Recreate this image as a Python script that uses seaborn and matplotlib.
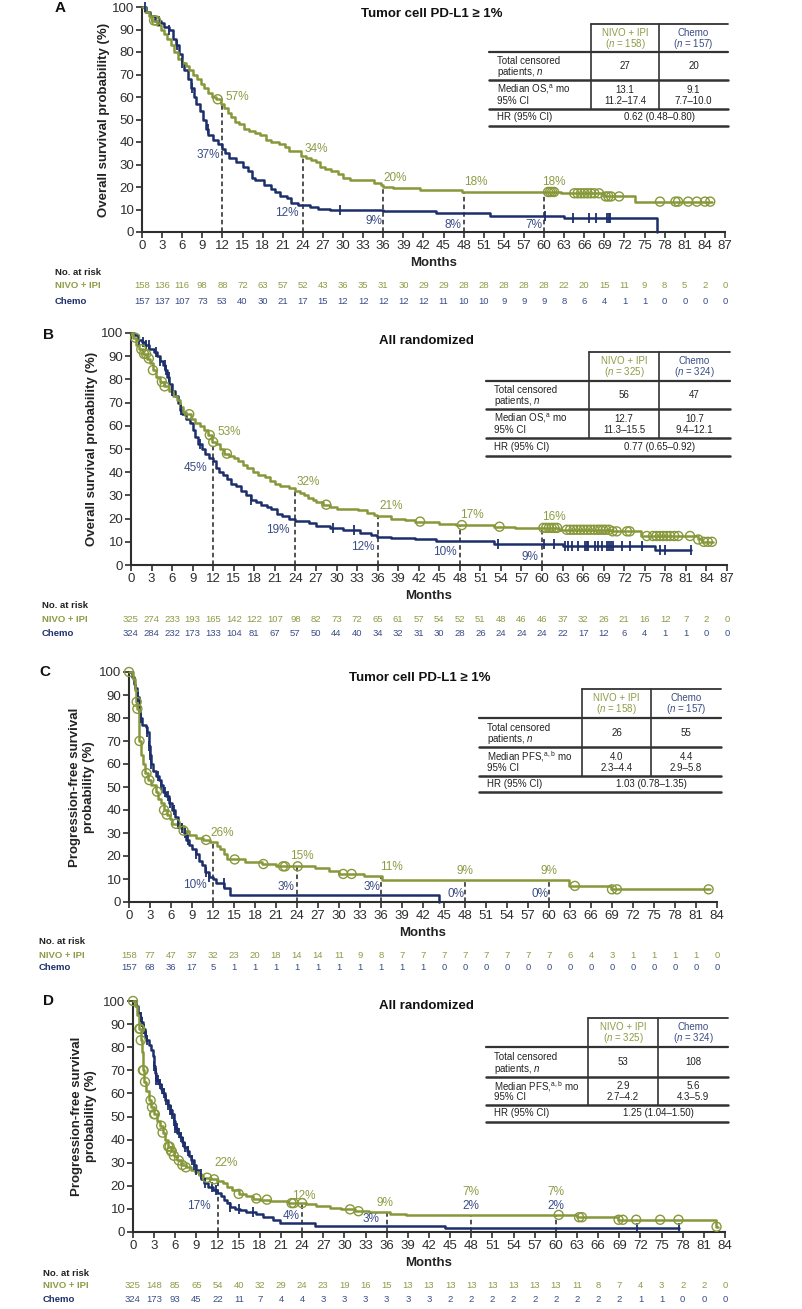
import numpy as np
import pandas as pd
import matplotlib
matplotlib.use("Agg")
import matplotlib.pyplot as plt
from matplotlib import transforms
import seaborn as sns

# ============================ DATA ============================
# --- Panel A: OS, tumor cell PD-L1 >= 1% ---
A_NIVO_T = [0, 0.5, 1.0, 1.5, 2.2, 2.8, 3.3, 3.8, 4.3, 4.8,
            5.3, 5.9, 6.5, 7.0, 7.6, 8.2, 8.8, 9.3, 9.8, 10.4,
            11.0, 11.8, 12.3, 12.8, 13.3, 13.9, 14.5, 15.2, 16.0, 16.8,
            17.6, 18.5, 19.3, 20.5, 21.3, 22.0, 23.8, 24.5, 25.2, 25.9,
            26.6, 27.3, 28.2, 29.2, 30.0, 31.0, 34.6, 35.6, 35.9, 37.5,
            41.5, 47.8, 62.5, 69.0, 73.5, 85.0]
A_NIVO_S = [100, 98, 96, 94, 92, 90, 88, 86, 83, 80,
            77, 75, 74, 72, 70, 68, 66, 64, 62, 60,
            59, 57, 55, 53, 51, 49, 48, 46, 45, 44,
            43, 41, 40, 39, 38, 36, 34, 33, 32, 31,
            29, 28, 27, 26, 24, 23, 22, 21, 20, 19.4,
            18.7, 17.8, 17.2, 15.8, 13.5, 13.5]
A_CHEMO_T = [0, 0.6, 1.2, 2.0, 2.8, 3.3, 4.0, 4.6, 5.1, 5.5,
             5.9, 6.3, 6.8, 7.3, 7.7, 8.1, 8.6, 9.1, 9.5, 9.9,
             10.6, 11.3, 11.9, 12.4, 13.0, 14.0, 15.0, 15.8, 16.4, 16.8,
             18.2, 19.3, 19.9, 20.6, 21.6, 22.3, 23.3, 25.0, 26.2, 28.0,
             36.0, 43.8, 52.0, 63.0, 76.8]
A_CHEMO_S = [100, 98, 96, 94, 93, 91, 90, 86, 83, 79,
             75, 72, 68, 64, 60, 57, 54, 50, 46, 43,
             41, 39, 37, 35, 33, 31, 29, 27, 24, 23,
             21, 19, 18, 16, 15, 13, 12, 11.2, 10.3, 9.6,
             9.2, 8.4, 6.9, 6.1, 0]
A_NIVO_CENS = [1.8, 2.1, 11.3, 60.6, 60.9, 61.2, 61.5, 64.5, 65.0, 65.5, 66.0, 66.5,
               67.0, 67.5, 68.2, 69.2, 69.6, 70.0, 71.2, 77.3, 79.6, 80.0, 81.5, 82.8,
               84.0, 84.8]
A_CHEMO_CENS = [0.4, 2.6, 4.1, 5.2, 5.9, 7.4, 9.8, 29.5, 60.2, 64.3, 66.7, 67.7,
                69.4, 69.7, 69.9]
A_RISK_NIVO = [158, 136, 116, 98, 88, 72, 63, 57, 52, 43, 36, 35, 31, 30, 29, 29, 28, 28,
               28, 28, 28, 22, 20, 15, 11, 9, 8, 5, 2, 0]
A_RISK_CHEMO = [157, 137, 107, 73, 53, 40, 30, 21, 17, 15, 12, 12, 12, 12, 12, 11, 10, 10,
                9, 9, 9, 8, 6, 4, 1, 1, 0, 0, 0, 0]
A_LM_NIVO = ["57%", "34%", "20%", "18%", "18%"]
A_LM_CHEMO = ["37%", "12%", "9%", "8%", "7%"]

# --- Panel B: OS, all randomized ---
B_NIVO_T = [0, 0.3, 0.8, 1.2, 1.7, 2.3, 2.8, 3.2, 3.7, 4.3,
            4.8, 5.5, 6.2, 6.7, 7.1, 7.6, 8.1, 8.7, 9.3, 10.0,
            10.6, 11.2, 11.8, 12.4, 13.0, 13.6, 14.3, 15.0, 15.6, 16.3,
            17.0, 17.8, 18.6, 19.5, 20.3, 21.0, 21.7, 23.0, 23.9, 24.7,
            25.3, 25.9, 26.5, 27.0, 28.0, 29.0, 30.0, 33.2, 34.5, 35.5,
            35.9, 38.0, 40.0, 41.5, 45.0, 47.5, 53.0, 56.0, 62.5, 70.0,
            74.5, 82.8, 83.3, 85.0]
B_NIVO_S = [100, 98, 95, 93, 91, 89, 87, 84, 81, 79,
            77, 75, 73, 71, 68, 66, 65, 63, 61, 60,
            58, 56, 53, 52, 50, 48, 47, 46, 45, 43,
            42, 40, 39, 38, 36, 35, 34, 33, 32, 31,
            30, 29, 28, 27, 26, 25, 24, 23.5, 22.5, 21.5,
            21, 20, 19.3, 18.7, 17.8, 17.2, 16.5, 16.0, 15.2, 14.5,
            12.5, 11.0, 10.0, 10.0]
B_CHEMO_T = [0, 0.5, 1.0, 1.6, 2.1, 2.7, 3.3, 3.8, 4.2, 4.6,
             5.0, 5.3, 5.6, 6.0, 6.4, 6.8, 7.2, 7.5, 8.0, 8.6,
             9.0, 9.4, 9.8, 10.3, 10.8, 11.4, 11.9, 12.4, 12.9, 13.4,
             14.0, 14.6, 15.3, 16.0, 16.8, 17.5, 18.3, 19.0, 19.8, 20.5,
             21.3, 22.0, 23.0, 23.9, 26.0, 27.0, 29.0, 31.0, 33.5, 35.0,
             35.9, 38.0, 41.5, 44.5, 53.0, 63.0, 76.5, 81.8]
B_CHEMO_S = [100, 99, 97, 96, 95, 93, 92, 90, 88, 86,
             84, 81, 78, 75, 73, 70, 67, 65, 63, 61,
             58, 55, 52, 50, 48, 46, 45, 42, 40, 39,
             37, 35, 34, 32, 30, 28, 27, 26, 25, 24,
             22, 21, 20, 19, 18, 17, 16, 15, 14, 13,
             12, 11.5, 11.0, 10.5, 9.2, 8.4, 6.4, 6.4]
B_NIVO_CENS = [0.6, 1.5, 1.9, 2.2, 2.6, 3.2, 4.5, 4.9, 8.5, 11.5, 12.0, 14.0, 28.5,
               42.2, 48.3, 53.8, 60.2, 60.6, 61.0, 61.4, 61.8, 62.2, 63.6, 64.1, 64.6,
               65.1, 65.6, 66.1, 66.6, 67.1, 67.6, 68.1, 68.5, 68.9, 69.3, 69.8, 70.3,
               70.9, 72.4, 72.8, 75.3, 76.2, 76.7, 77.2, 77.7, 78.2, 78.7, 79.3, 79.9,
               81.6, 82.8, 83.6, 84.2, 84.8]
B_CHEMO_CENS = [1.2, 1.8, 2.2, 2.6, 3.6, 4.3, 4.9, 5.1, 5.5, 6.0, 7.3, 10.0, 17.5,
                29.5, 32.5, 53.6, 60.3, 61.8, 63.4, 63.8, 64.4, 65.3, 66.3, 66.5, 66.7,
                67.7, 68.2, 68.8, 69.5, 69.8, 70.1, 70.4, 71.6, 72.8, 74.6, 77.2, 77.9,
                81.8]
B_RISK_NIVO = [325, 274, 233, 193, 165, 142, 122, 107, 98, 82, 73, 72, 65, 61, 57, 54, 52,
               51, 48, 46, 46, 37, 32, 26, 21, 16, 12, 7, 2, 0]
B_RISK_CHEMO = [324, 284, 232, 173, 133, 104, 81, 67, 57, 50, 44, 40, 34, 32, 31, 30, 28,
                26, 24, 24, 24, 22, 17, 12, 6, 4, 1, 1, 0, 0]
B_LM_NIVO = ["53%", "32%", "21%", "17%", "16%"]
B_LM_CHEMO = ["45%", "19%", "12%", "10%", "9%"]

# --- Panel C: PFS, tumor cell PD-L1 >= 1% ---
C_NIVO_T = [0, 0.5, 0.8, 1.0, 1.2, 1.4, 1.7, 2.0, 2.3, 2.7,
            3.2, 3.8, 4.2, 4.6, 5.0, 5.4, 5.8, 6.2, 7.0, 7.8,
            8.5, 9.5, 10.5, 11.5, 12.5, 13.0, 13.5, 14.0, 16.5, 19.0,
            21.0, 26.5, 28.5, 30.0, 33.5, 36.2, 62.8, 68.8, 83.0]
C_NIVO_S = [100, 97, 92, 87, 84, 70, 64, 60, 56, 53,
            51, 48, 45, 43, 40, 38, 36, 34, 33, 31,
            29, 28, 27, 26, 24.5, 23, 21, 18.5, 17.5, 16.5,
            15.5, 14.6, 13.5, 12.2, 11.3, 9.6, 7.0, 5.5, 5.5]
C_CHEMO_T = [0, 0.4, 0.7, 0.9, 1.1, 1.4, 1.6, 1.9, 2.4, 2.6,
             2.8, 3.0, 3.1, 3.4, 3.8, 4.3, 4.6, 4.9, 5.3, 5.7,
             6.1, 6.5, 7.0, 7.4, 7.8, 8.2, 8.5, 9.0, 9.5, 10.0,
             10.4, 10.9, 11.4, 12.0, 12.4, 13.6, 14.4, 44.3]
C_CHEMO_S = [100, 98, 95, 93, 89, 83, 80, 77, 76, 74,
             68, 64, 60, 57, 55, 53, 51, 48, 46, 43,
             40, 37, 34, 32, 30, 27, 25, 23, 21, 18,
             16, 13, 11, 10, 8.4, 6.0, 3.0, 0]
C_NIVO_CENS = [0.0, 1.1, 1.2, 1.5, 2.5, 2.9, 4.0, 5.0, 5.4, 6.7, 7.8, 11.0, 15.1, 19.2,
               22.0, 22.3, 24.1, 30.6, 31.8, 63.7, 69.0, 69.7, 82.8]
C_CHEMO_CENS = [1.3, 1.7, 2.6, 2.9, 3.0, 3.2, 4.1, 4.6, 5.2, 5.5, 5.8, 6.4, 7.0, 7.5,
                8.0, 8.4, 9.6, 11.0, 11.4, 13.5]
C_RISK_NIVO = [158, 77, 47, 37, 32, 23, 20, 18, 14, 14, 11, 9, 8, 7, 7, 7, 7, 7, 7, 7, 7,
               6, 4, 3, 1, 1, 1, 1, 0]
C_RISK_CHEMO = [157, 68, 36, 17, 5, 1, 1, 1, 1, 1, 1, 1, 1, 1, 1, 0, 0, 0, 0, 0, 0, 0, 0,
                0, 0, 0, 0, 0, 0]
C_LM_NIVO = ["26%", "15%", "11%", "9%", "9%"]
C_LM_CHEMO = ["10%", "3%", "3%", "0%", "0%"]

# --- Panel D: PFS, all randomized ---
D_NIVO_T = [0, 0.3, 0.6, 0.9, 1.1, 1.3, 1.4, 1.6, 1.8, 2.2,
            2.6, 3.0, 3.4, 3.8, 4.2, 4.6, 5.0, 5.4, 5.8, 6.2,
            6.8, 7.5, 8.2, 8.8, 9.3, 10.0, 11.0, 11.9, 12.8, 13.4,
            14.0, 15.0, 16.0, 17.0, 18.0, 19.5, 22.0, 24.5, 26.0, 28.0,
            29.5, 31.5, 33.5, 36.5, 38.8, 63.0, 68.8, 82.7, 83.0]
D_NIVO_S = [100, 98, 94, 88, 83, 78, 70, 65, 61, 57,
            54, 51, 48, 46, 43, 40, 37, 35, 33, 31,
            29, 28, 27, 26, 24.5, 23.5, 22.8, 22, 21, 19.5,
            18, 16.5, 15.5, 14.5, 14, 13.4, 12.5, 12, 11.3, 10.5,
            9.8, 9.0, 8.5, 8.0, 7.4, 6.4, 5.3, 2.3, 2.3]
D_CHEMO_T = [0, 0.4, 0.7, 1.0, 1.2, 1.4, 1.7, 1.9, 2.3, 2.6,
             2.8, 3.0, 3.1, 3.3, 3.7, 4.0, 4.3, 4.6, 4.9, 5.2,
             5.5, 5.8, 6.0, 6.3, 6.7, 7.0, 7.3, 7.7, 8.0, 8.3,
             8.6, 8.9, 9.3, 9.7, 10.1, 10.7, 11.4, 11.9, 12.5, 12.9,
             13.3, 13.8, 14.5, 15.2, 16.0, 17.5, 18.5, 19.8, 20.8, 25.8,
             44.3, 77.5]
D_CHEMO_S = [100, 98, 95, 93, 91, 88, 85, 83, 81, 79,
             76, 72, 69, 66, 64, 62, 60, 57, 55, 53,
             51, 48, 45, 43, 41, 39, 37, 35, 33, 31,
             29, 27, 25, 23, 21, 19.5, 18.2, 17, 15.5, 14,
             12.5, 11, 10, 9.5, 8.5, 7.7, 6.4, 5.2, 3.8, 2.6,
             1.6, 1.6]
D_NIVO_CENS = [0.0, 0.9, 1.0, 1.1, 1.4, 1.5, 1.7, 2.5, 2.7, 3.0, 3.1, 4.0, 4.2, 5.0,
               5.2, 5.4, 5.5, 5.8, 6.5, 7.0, 7.5, 10.5, 11.5, 15.0, 17.5, 19.0, 22.5,
               22.8, 24.0, 30.8, 32.0, 60.4, 63.3, 63.7, 68.9, 69.5, 71.4, 74.8, 77.4,
               82.8]
D_CHEMO_CENS = [1.1, 1.3, 1.5, 1.6, 1.8, 2.0, 3.0, 3.2, 3.3, 3.5, 3.8, 4.1, 4.4, 4.7,
                4.9, 5.2, 5.4, 5.6, 5.8, 6.0, 6.2, 6.5, 6.8, 7.1, 7.4, 7.8, 8.4, 8.6,
                9.0, 9.6, 10.2, 11.2, 11.8, 13.8, 15.0, 17.0, 71.5, 77.5]
D_RISK_NIVO = [325, 148, 85, 65, 54, 40, 32, 29, 24, 23, 19, 16, 15, 13, 13, 13, 13, 13,
               13, 13, 13, 11, 8, 7, 4, 3, 2, 2, 0]
D_RISK_CHEMO = [324, 173, 93, 45, 22, 11, 7, 4, 4, 3, 3, 3, 3, 3, 3, 2, 2, 2, 2, 2, 2, 2,
                2, 2, 1, 1, 0, 0, 0]
D_LM_NIVO = ["22%", "12%", "9%", "7%", "7%"]
D_LM_CHEMO = ["17%", "4%", "3%", "2%", "2%"]

LANDMARKS = [12, 24, 36, 48, 60]

# --- Tables ---
TABLE_A = dict(n=("158", "157"), cens=("27", "20"), med_label="Median OS,$^{\\mathrm{a}}$ mo",
               med=("13.1", "9.1"), ci=("11.2\u201317.4", "7.7\u201310.0"), hr="0.62 (0.48\u20130.80)")
TABLE_B = dict(n=("325", "324"), cens=("56", "47"), med_label="Median OS,$^{\\mathrm{a}}$ mo",
               med=("12.7", "10.7"), ci=("11.3\u201315.5", "9.4\u201312.1"), hr="0.77 (0.65\u20130.92)")
TABLE_C = dict(n=("158", "157"), cens=("26", "55"), med_label="Median PFS,$^{\\mathrm{a,b}}$ mo",
               med=("4.0", "4.4"), ci=("2.3\u20134.4", "2.9\u20135.8"), hr="1.03 (0.78\u20131.35)")
TABLE_D = dict(n=("325", "324"), cens=("53", "108"), med_label="Median PFS,$^{\\mathrm{a,b}}$ mo",
               med=("2.9", "5.6"), ci=("2.7\u20134.2", "4.3\u20135.9"), hr="1.25 (1.04\u20131.50)")

TITLES = ["Tumor cell PD-L1 \u2265 1%", "All randomized", "Tumor cell PD-L1 \u2265 1%", "All randomized"]
YLABELS = ["Overall survival probability (%)", "Overall survival probability (%)",
           "Progression-free survival\nprobability (%)", "Progression-free survival\nprobability (%)"]

# ============================ STYLE ============================
sns.set_theme(style="ticks")
plt.rcParams["font.family"] = ["Liberation Sans", "DejaVu Sans"]
plt.rcParams["mathtext.fontset"] = "custom"
plt.rcParams["mathtext.rm"] = "Liberation Sans"
plt.rcParams["mathtext.it"] = "Liberation Sans:italic"
plt.rcParams["mathtext.bf"] = "Liberation Sans:bold"

GREEN = "#87983a"
NAVY = "#1c2f6b"
GREEN_TXT = "#8c9c44"
NAVY_TXT = "#3a4c86"
DARK = "#2e2e2e"

W, H = 802, 1309
fig = plt.figure(figsize=(W / 100, H / 100), dpi=100)
fig.patch.set_facecolor("white")

over = fig.add_axes([0, 0, 1, 1], zorder=5)
over.set_xlim(0, W)
over.set_ylim(H, 0)
over.axis("off")
over.patch.set_alpha(0)

LAYOUT = [
    dict(box=(142, 7, 725, 232), xmax=87, letter="A", letter_xy=(60, 8), title_xy=(432, 14),
         ylab_x=104, months_y=263, risk_y=(272.5, 286, 301), risk_x=55,
         tab_y=(24, 52, 80, 109, 126), tab_x=(489, 591, 659, 728),
         g_lab=[(12.4, 60, "left"), (24.2, 37, "left"), (36.1, 24, "left"), (48.1, 22.4, "left"), (59.7, 22.4, "left")],
         b_lab=[(11.6, 34.2, "right"), (23.3, 8.3, "right"), (35.8, 5, "right"), (47.7, 3.1, "right"), (59.8, 3.1, "right")]),
    dict(box=(131, 333, 727, 565), xmax=87, letter="B", letter_xy=(48, 335), title_xy=(426, 341),
         ylab_x=92, months_y=596, risk_y=(605, 619, 634), risk_x=42,
         tab_y=(352, 381, 409, 438, 456), tab_x=(486, 589, 659, 730),
         g_lab=[(12.6, 57.5, "left"), (24.1, 35.6, "left"), (36.2, 25.6, "left"), (48.0, 21.6, "left"), (60.0, 20.6, "left")],
         b_lab=[(11.1, 41.7, "right"), (23.2, 15.1, "right"), (35.5, 7.6, "right"), (47.6, 5.5, "right"), (59.4, 3.6, "right")]),
    dict(box=(129, 672, 717, 902), xmax=84, letter="C", letter_xy=(45, 672), title_xy=(420, 678),
         ylab_x=82, months_y=933, risk_y=(941.7, 955, 968), risk_x=39,
         tab_y=(689, 718, 747, 776, 792), tab_x=(479, 582, 651, 721),
         g_lab=[(11.6, 30.1, "left"), (23.0, 20.1, "left"), (35.9, 15.2, "left"), (48.0, 13.5, "center"), (60.0, 13.5, "center")],
         b_lab=[(11.1, 7.2, "right"), (23.7, 6.7, "right"), (35.9, 6.7, "right"), (48.0, 3.3, "right"), (59.9, 3.3, "right")]),
    dict(box=(133, 1001, 725, 1232), xmax=84, letter="D", letter_xy=(48, 1001), title_xy=(426, 1006),
         ylab_x=84, months_y=1263, risk_y=(1273, 1286, 1300), risk_x=43,
         tab_y=(1018, 1047, 1077, 1105, 1122), tab_x=(486, 588, 658, 728),
         g_lab=[(11.6, 30, "left"), (22.5, 15.7, "left"), (34.6, 12.7, "left"), (48.0, 17.2, "center"), (60.0, 17.2, "center")],
         b_lab=[(11.0, 11.4, "right"), (23.7, 6.9, "right"), (35.0, 5.8, "right"), (48.0, 11.3, "center"), (60.0, 11.3, "center")]),
]

PANELS = [
    (A_NIVO_T, A_NIVO_S, A_CHEMO_T, A_CHEMO_S, A_NIVO_CENS, A_CHEMO_CENS, A_RISK_NIVO, A_RISK_CHEMO, A_LM_NIVO, A_LM_CHEMO, TABLE_A),
    (B_NIVO_T, B_NIVO_S, B_CHEMO_T, B_CHEMO_S, B_NIVO_CENS, B_CHEMO_CENS, B_RISK_NIVO, B_RISK_CHEMO, B_LM_NIVO, B_LM_CHEMO, TABLE_B),
    (C_NIVO_T, C_NIVO_S, C_CHEMO_T, C_CHEMO_S, C_NIVO_CENS, C_CHEMO_CENS, C_RISK_NIVO, C_RISK_CHEMO, C_LM_NIVO, C_LM_CHEMO, TABLE_C),
    (D_NIVO_T, D_NIVO_S, D_CHEMO_T, D_CHEMO_S, D_NIVO_CENS, D_CHEMO_CENS, D_RISK_NIVO, D_RISK_CHEMO, D_LM_NIVO, D_LM_CHEMO, TABLE_D),
]


def surv_at(ts, ss, t):
    ts = np.asarray(ts)
    idx = np.searchsorted(ts, t, side="right") - 1
    return np.asarray(ss)[np.clip(idx, 0, len(ss) - 1)]


def draw_table(spec, lay):
    y0, y1, y2, y3, y4 = lay["tab_y"]
    xl, c1, c2, xr = lay["tab_x"]
    fs = 7.0
    lc = "#333333"
    over.plot([c1, xr], [y0, y0], color=lc, lw=1.3)
    over.plot([xl, xr], [y1, y1], color=lc, lw=1.6)
    over.plot([xl, xr], [y2, y2], color=lc, lw=1.8)
    over.plot([xl, xr], [y3, y3], color=lc, lw=1.8)
    over.plot([xl, xr], [y4, y4], color=lc, lw=1.8)
    over.plot([c1, c1], [y0, y3], color=lc, lw=1.2)
    over.plot([c2, c2], [y0, y3], color=lc, lw=1.2)
    m1, m2 = (c1 + c2) / 2, (c2 + xr) / 2
    h = y1 - y0
    over.text(m1, y0 + h * 0.32, "NIVO + IPI", color=GREEN_TXT, fontsize=fs, ha="center", va="center")
    over.text(m1, y0 + h * 0.70, "($\\mathit{n}$ = %s)" % spec["n"][0], color=GREEN_TXT, fontsize=fs, ha="center", va="center")
    over.text(m2, y0 + h * 0.32, "Chemo", color=NAVY_TXT, fontsize=fs, ha="center", va="center")
    over.text(m2, y0 + h * 0.70, "($\\mathit{n}$ = %s)" % spec["n"][1], color=NAVY_TXT, fontsize=fs, ha="center", va="center")
    tx = xl + 8
    h = y2 - y1
    over.text(tx, y1 + h * 0.33, "Total censored", fontsize=fs, ha="left", va="center", color="#222222")
    over.text(tx, y1 + h * 0.72, "patients, $\\mathit{n}$", fontsize=fs, ha="left", va="center", color="#222222")
    over.text(m1, (y1 + y2) / 2, spec["cens"][0], fontsize=fs, ha="center", va="center", color="#222222")
    over.text(m2, (y1 + y2) / 2, spec["cens"][1], fontsize=fs, ha="center", va="center", color="#222222")
    h = y3 - y2
    over.text(tx, y2 + h * 0.33, spec["med_label"], fontsize=fs, ha="left", va="center", color="#222222")
    over.text(tx, y2 + h * 0.72, "95% CI", fontsize=fs, ha="left", va="center", color="#222222")
    for mx, med, ci in ((m1, spec["med"][0], spec["ci"][0]), (m2, spec["med"][1], spec["ci"][1])):
        over.text(mx, y2 + h * 0.33, med, fontsize=fs, ha="center", va="center", color="#222222")
        over.text(mx, y2 + h * 0.72, ci, fontsize=fs, ha="center", va="center", color="#222222")
    over.text(tx, (y3 + y4) / 2, "HR (95% CI)", fontsize=fs, ha="left", va="center", color="#222222")
    over.text((c1 + xr) / 2, (y3 + y4) / 2, spec["hr"], fontsize=fs, ha="center", va="center", color="#222222")


for i, (lay, pdata) in enumerate(zip(LAYOUT, PANELS)):
    nt, ns, ct, cs, ncens, ccens, rn, rc, lmn, lmc, tab = pdata
    x0, y0, x1, y1 = lay["box"]
    ax = fig.add_axes([x0 / W, 1 - y1 / H, (x1 - x0) / W, (y1 - y0) / H])
    ax.set_facecolor("none")
    xmax = lay["xmax"]

    # landmark dashed lines
    for k, lm in enumerate(LANDMARKS):
        top = surv_at(nt, ns, lm)
        ax.plot([lm, lm], [0, top], color="#222222", lw=1.1, ls=(0, (3, 2)), zorder=1)

    df_c = pd.DataFrame({"Months": ct, "Survival": cs})
    df_n = pd.DataFrame({"Months": nt, "Survival": ns})
    sns.lineplot(data=df_c, x="Months", y="Survival", ax=ax, color=NAVY, lw=1.8,
                 drawstyle="steps-post", estimator=None, sort=False, clip_on=False, zorder=3)
    sns.lineplot(data=df_n, x="Months", y="Survival", ax=ax, color=GREEN, lw=1.8,
                 drawstyle="steps-post", estimator=None, sort=False, clip_on=False, zorder=4)

    cy = surv_at(ct, cs, np.asarray(ccens))
    sns.scatterplot(x=ccens, y=cy, ax=ax, marker="|", s=55, color=NAVY, linewidth=1.3,
                    clip_on=False, zorder=5, legend=False)
    ny = surv_at(nt, ns, np.asarray(ncens))
    sns.scatterplot(x=ncens, y=ny, ax=ax, marker="o", s=42, facecolors="none",
                    edgecolor=GREEN, linewidth=1.0, clip_on=False, zorder=6, legend=False)

    # landmark labels
    for txt, (lx, ly, ha) in zip(lmn, lay["g_lab"]):
        ax.text(lx, ly, txt, color=GREEN_TXT, fontsize=8.5, ha=ha, va="center", zorder=7)
    for txt, (lx, ly, ha) in zip(lmc, lay["b_lab"]):
        ax.text(lx, ly, txt, color=NAVY_TXT, fontsize=8.5, ha=ha, va="center", zorder=7)

    ax.set_xlim(0, xmax)
    ax.set_ylim(0, 100)
    ax.set_xticks(np.arange(0, xmax + 1, 3))
    ax.set_yticks(np.arange(0, 101, 10))
    ax.tick_params(axis="both", direction="out", length=4, width=1.2, colors=DARK,
                   labelsize=9.5, pad=1.5)
    ax.set_xlabel("")
    ax.set_ylabel("")
    sns.despine(ax=ax)
    for sp in ("left", "bottom"):
        ax.spines[sp].set_linewidth(1.5)
        ax.spines[sp].set_color(DARK)

    # Text around the panel
    over.text(lay["letter_xy"][0], lay["letter_xy"][1], lay["letter"], fontsize=11,
              fontweight="bold", ha="center", va="center", color="#111111")
    over.text(lay["title_xy"][0], lay["title_xy"][1], TITLES[i], fontsize=9.5,
              fontweight="bold", ha="center", va="center", color="#111111")
    over.text(lay["ylab_x"], (y0 + y1) / 2, YLABELS[i], fontsize=9.5, fontweight="bold",
              rotation=90, ha="center", va="center", multialignment="center", color="#222222")
    over.text((x0 + x1) / 2, lay["months_y"], "Months", fontsize=9.5, fontweight="bold",
              ha="center", va="center", color="#222222")

    # at risk table
    ry0, ry1, ry2 = lay["risk_y"]
    over.text(lay["risk_x"], ry0, "No. at risk", fontsize=6.8, fontweight="bold",
              ha="left", va="center", color="#222222")
    over.text(lay["risk_x"], ry1, "NIVO + IPI", fontsize=6.8, fontweight="bold",
              ha="left", va="center", color=GREEN_TXT)
    over.text(lay["risk_x"], ry2, "Chemo", fontsize=6.8, fontweight="bold",
              ha="left", va="center", color=NAVY)
    trans = transforms.blended_transform_factory(ax.transData, over.transData)
    ticks = np.arange(0, xmax + 1, 3)
    for tk, a, b in zip(ticks, rn, rc):
        over.text(tk, ry1, str(a), transform=trans, fontsize=6.8, ha="center", va="center", color=GREEN_TXT)
        over.text(tk, ry2, str(b), transform=trans, fontsize=6.8, ha="center", va="center", color=NAVY_TXT)

    draw_table(tab, lay)

fig.savefig("out.png", dpi=100)
